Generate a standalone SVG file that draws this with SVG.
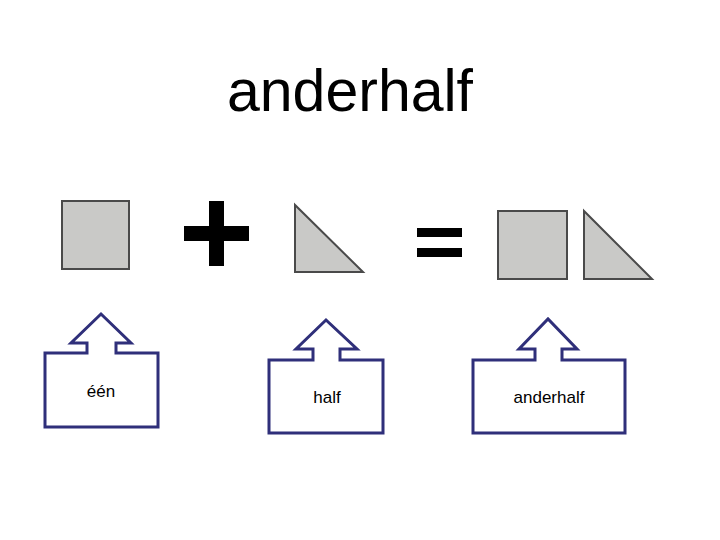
<svg xmlns="http://www.w3.org/2000/svg" width="720" height="540" viewBox="0 0 720 540">
<style>
.shape{fill:#c9c9c7;stroke:#4a4a4a;stroke-width:2}
.sym{fill:#000}
.callout{fill:#fff;stroke:#2f2f7a;stroke-width:3;stroke-linejoin:miter}
.lbl{font-family:"Liberation Sans",Arial,sans-serif;font-size:17px;fill:#000;text-anchor:middle}
.title{font-family:"Liberation Sans",Arial,sans-serif;font-size:59px;fill:#000;text-anchor:middle}
</style>
<rect width="720" height="540" fill="#fff"/>
<text class="title" x="350" y="111">anderhalf</text>
<g id="square1"><rect class="shape" x="62" y="201" width="67" height="68"/></g>
<g id="plus"><rect class="sym" x="209" y="201" width="15" height="65"/><rect class="sym" x="184" y="226" width="65" height="15"/></g>
<g id="triangle1"><polygon class="shape" points="295,205 295,272 363,272"/></g>
<g id="equals"><rect class="sym" x="417" y="228" width="45" height="9"/><rect class="sym" x="417" y="248" width="45" height="9"/></g>
<g id="square2"><rect class="shape" x="498" y="211" width="69" height="68"/></g>
<g id="triangle2"><polygon class="shape" points="584,211 584,279 652,279"/></g>
<g id="callout1">
<polygon class="callout" points="45,353 87,353 87,343 71,343 101,314 131,343 116,343 116,353 158,353 158,427 45,427"/>
<text class="lbl" x="101" y="397">één</text>
</g>
<g id="callout2">
<polygon class="callout" points="269,360 313,360 313,349 296,349 326,320 357,349 340,349 340,360 383,360 383,433 269,433"/>
<text class="lbl" x="327" y="403">half</text>
</g>
<g id="callout3">
<polygon class="callout" points="473,360 535,360 535,349 519,349 548,319 577,349 562,349 562,360 625,360 625,433 473,433"/>
<text class="lbl" x="549" y="403">anderhalf</text>
</g>
</svg>
